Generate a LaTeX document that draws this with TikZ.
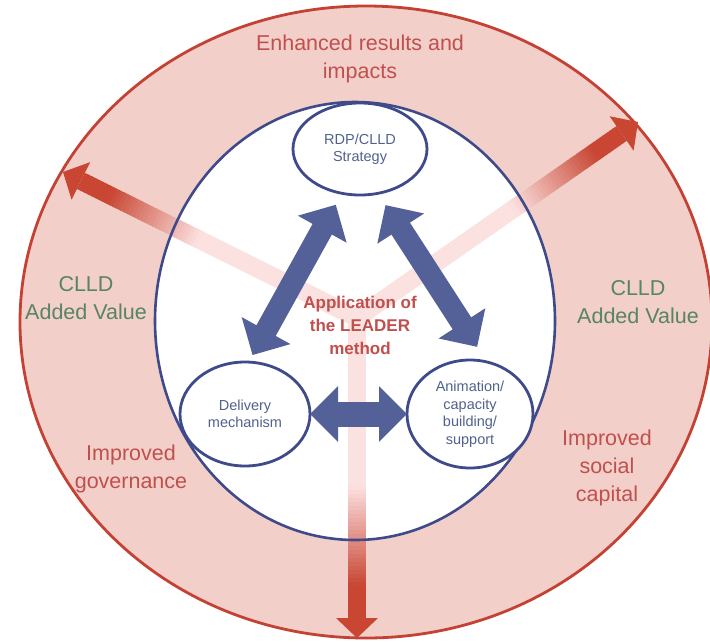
\documentclass[tikz,border=0pt]{standalone}
\usepackage{fontspec}
\setmainfont{Liberation Sans}
\usetikzlibrary{arrows.meta}
\usetikzlibrary{calc}
\usetikzlibrary{shapes.geometric}

\definecolor{ringpink}{RGB}{243,207,202}
\definecolor{ringred}{RGB}{196,66,52}
\definecolor{rimblue}{RGB}{62,74,138}
\definecolor{linkblue}{RGB}{84,96,152}
\definecolor{labelblue}{RGB}{82,98,142}
\definecolor{outred}{RGB}{192,80,77}
\definecolor{valgreen}{RGB}{86,132,100}
\definecolor{streak}{RGB}{252,225,225}
\definecolor{arrowred}{RGB}{200,70,50}

\tikzset{
  part/.style={ellipse, draw=rimblue, line width=2.8pt, fill=white, text=labelblue,
    align=center, inner sep=0pt, outer sep=0pt, font=\fontsize{14.5}{17.5}\selectfont},
  outtext/.style={align=center, inner sep=0pt, font=\fontsize{21.5}{28}\selectfont},
  link/.style={linkblue, line width=22pt,
    {Triangle[width=54pt,length=28pt]}-{Triangle[width=54pt,length=28pt]}}
}

\begin{document}
\begin{tikzpicture}[x=1pt, y=-1pt]
        \useasboundingbox (0,0) rectangle (710,641);

        \draw[ringred, fill=ringpink, line width=2.8pt] (366,322) ellipse [x radius=346pt, y radius=316pt];
        \fill[white] (355,321) ellipse [x radius=200pt, y radius=219pt];

        \coordinate (hub) at (357,318);
        \coordinate (tipL) at (63,172);
        \coordinate (tipR) at (638,122);
        \coordinate (tipD) at (357,638);

        \foreach \t in {tipL, tipR, tipD} {
          \draw[streak, line width=18pt] (hub) -- ($(\t)!19pt!(hub)$);
          \foreach \d in {20,24,...,150} {
            \pgfmathtruncatemacro\mix{max(0,min(100,(150-\d)*100/100))}
            \pgfmathsetmacro\e{\d+5}
            \draw[arrowred!\mix!streak, line width=18pt] ($(\t)!\d pt!(hub)$) -- ($(\t)!\e pt!(hub)$);
          }
          \fill[arrowred] (\t) -- ($(\t)!20pt!(hub)!21pt!90:(\t)$) -- ($(\t)!20pt!(hub)!21pt!-90:(\t)$) -- cycle;
        }

        \draw[rimblue, line width=2.6pt] (355,321) ellipse [x radius=200pt, y radius=219pt];

        \node[outtext, text=outred] (gain) at (360,59) {Enhanced results and\\impacts};
        \node[outtext, text=valgreen] (valleft) at (86,298) {CLLD\\Added Value};
        \node[outtext, text=valgreen] (valright) at (638,302) {CLLD\\Added Value};
        \node[outtext, text=outred] (govern) at (131,469) {Improved\\governance};
        \node[outtext, text=outred] (social) at (607,468) {Improved\\social\\capital};

        \node[part, minimum width=134pt, minimum height=92pt] (strat) at (360,149) {RDP/CLLD\\Strategy};
        \node[part, minimum width=130pt, minimum height=104pt] (deliv) at (245,414) {Delivery\\mechanism};
        \node[part, minimum width=126pt, minimum height=108pt] (anim) at (470,414) {Animation/\\capacity\\building/\\support};

        \node[align=center, text=outred, font=\bfseries\fontsize{17}{23}\selectfont] (method) at (360,325) {Application of\\the LEADER\\method};

        \draw[link, shorten <=13pt, shorten >=8pt] (strat.248) -- (deliv.86);
        \draw[link, shorten <=14pt, shorten >=18pt] (strat.292) -- (anim.72);
        \draw[link, line width=25pt] (deliv.east) -- (anim.west);
      \end{tikzpicture}
\end{document}
